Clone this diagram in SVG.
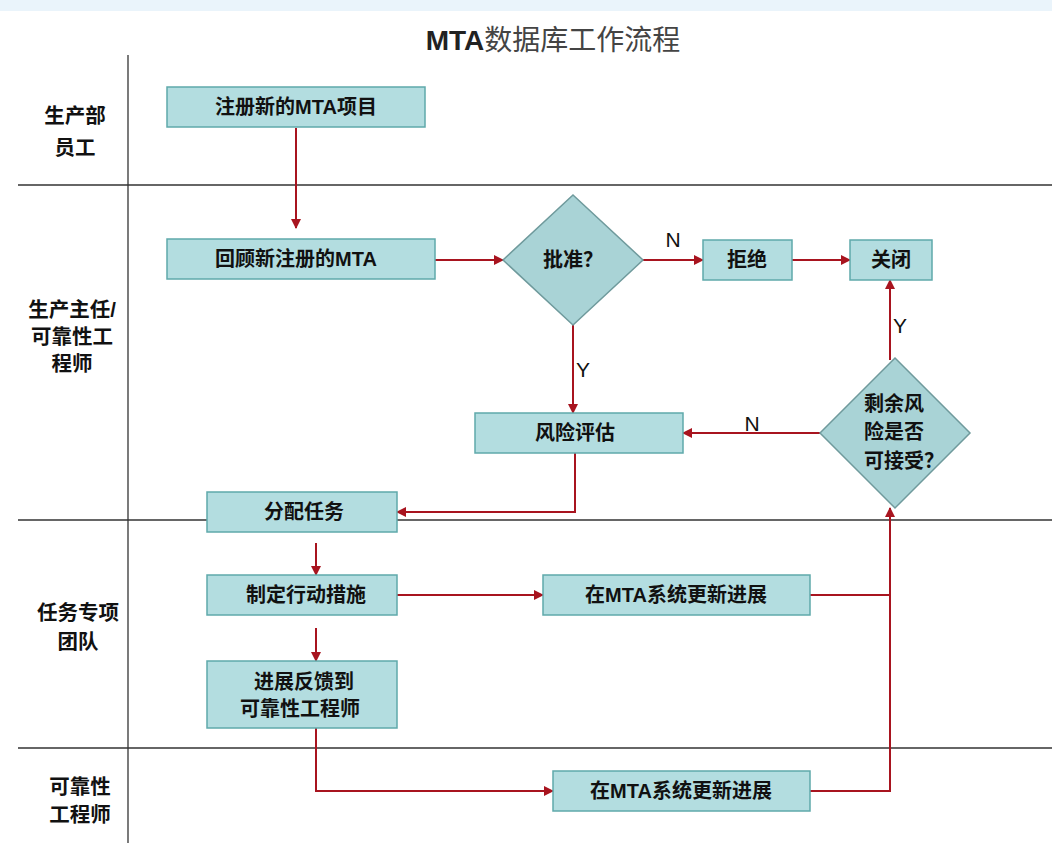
<svg xmlns="http://www.w3.org/2000/svg" width="1052" height="843" viewBox="0 0 1052 843">
<defs>
<style>
text{font-family:"Liberation Sans","Noto Sans CJK SC",sans-serif;fill:#111}
.lane{font-size:20.5px;font-weight:bold;text-anchor:middle}
.bt{font-size:20px;font-weight:bold;text-anchor:middle}
.yn{font-size:21px;text-anchor:middle}
.box{fill:#b3dde0;stroke:#5fa9ab;stroke-width:1.5}
.dia{fill:#a9d3d6;stroke:#6f9a9c;stroke-width:1.5}
.grid{stroke:#333;stroke-width:1.3;fill:none}
.c{stroke:#a8141f;stroke-width:2;fill:none}
</style>
<marker id="ah" viewBox="0 0 10 10" refX="9" refY="5" markerWidth="5" markerHeight="5" orient="auto">
<path d="M0,0 L10,5 L0,10 z" fill="#a8141f"/>
</marker>
</defs>
<rect x="0" y="0" width="1052" height="843" fill="#fff"/>
<rect x="0" y="0" width="1052" height="11" fill="#eaf4fb"/>
<text x="553" y="50" style="font-size:28px;text-anchor:middle;fill:#222"><tspan font-weight="bold">MTA</tspan><tspan fill="#444">数据库工作流程</tspan></text>
<g id="lanes">
<line class="grid" x1="128" y1="55" x2="128" y2="843"/>
<line class="grid" x1="18" y1="185" x2="1052" y2="185"/>
<line class="grid" x1="18" y1="520" x2="1052" y2="520"/>
<line class="grid" x1="18" y1="748" x2="1052" y2="748"/>
<text class="lane" x="75" y="123">生产部</text>
<text class="lane" x="75" y="155">员工</text>
<text class="lane" x="72" y="317">生产主任/</text>
<text class="lane" x="72" y="344">可靠性工</text>
<text class="lane" x="72" y="371">程师</text>
<text class="lane" x="78" y="620">任务专项</text>
<text class="lane" x="78" y="649">团队</text>
<text class="lane" x="80" y="794">可靠性</text>
<text class="lane" x="80" y="822">工程师</text>
</g>
<g id="connectors">
<line class="c" x1="296" y1="128" x2="296" y2="228" marker-end="url(#ah)"/>
<line class="c" x1="435" y1="260" x2="503" y2="260" marker-end="url(#ah)"/>
<line class="c" x1="643" y1="260" x2="703" y2="260" marker-end="url(#ah)"/>
<line class="c" x1="792" y1="260" x2="850" y2="260" marker-end="url(#ah)"/>
<line class="c" x1="573" y1="325" x2="573" y2="413" marker-end="url(#ah)"/>
<line class="c" x1="820" y1="433" x2="683" y2="433" marker-end="url(#ah)"/>
<line class="c" x1="890" y1="360" x2="890" y2="280" marker-end="url(#ah)"/>
<polyline class="c" points="575,453 575,512 397,512" marker-end="url(#ah)"/>
<line class="c" x1="316" y1="543" x2="316" y2="575" marker-end="url(#ah)"/>
<line class="c" x1="316" y1="628" x2="316" y2="661" marker-end="url(#ah)"/>
<line class="c" x1="397" y1="595" x2="543" y2="595" marker-end="url(#ah)"/>
<polyline class="c" points="316,728 316,791 553,791" marker-end="url(#ah)"/>
<line class="c" x1="810" y1="595" x2="890" y2="595"/>
<polyline class="c" points="810,791 890,791 890,508" marker-end="url(#ah)"/>
<text class="yn" x="673" y="247">N</text>
<text class="yn" x="583" y="377">Y</text>
<text class="yn" x="752" y="431">N</text>
<text class="yn" x="900" y="333">Y</text>
</g>
<g id="n1"><rect class="box" x="167" y="87" width="258" height="40"/><text class="bt" x="296" y="114">注册新的MTA项目</text></g>
<g id="n2"><rect class="box" x="167" y="239" width="268" height="40"/><text class="bt" x="296" y="266">回顾新注册的MTA</text></g>
<g id="n3"><polygon class="dia" points="573,195 643,260 573,325 503,260"/><text class="bt" x="573" y="267">批准？</text></g>
<g id="n4"><rect class="box" x="703" y="240" width="89" height="40"/><text class="bt" x="747" y="267">拒绝</text></g>
<g id="n5"><rect class="box" x="850" y="240" width="82" height="40"/><text class="bt" x="891" y="267">关闭</text></g>
<g id="n6"><rect class="box" x="475" y="413" width="208" height="40"/><text class="bt" x="575" y="440">风险评估</text></g>
<g id="n7"><polygon class="dia" points="895,358 970,433 895,508 820,433"/>
<text class="bt" style="text-anchor:start" x="864" y="411">剩余风</text>
<text class="bt" style="text-anchor:start" x="864" y="439">险是否</text>
<text class="bt" style="text-anchor:start" x="864" y="468">可接受？</text></g>
<g id="n8"><rect class="box" x="207" y="492" width="190" height="40"/><text class="bt" x="304" y="519">分配任务</text></g>
<g id="n9"><rect class="box" x="207" y="575" width="190" height="40"/><text class="bt" x="306" y="602">制定行动措施</text></g>
<g id="n10"><rect class="box" x="207" y="661" width="190" height="67"/><text class="bt" x="304" y="689">进展反馈到</text><text class="bt" x="300" y="716">可靠性工程师</text></g>
<g id="n11"><rect class="box" x="543" y="575" width="267" height="40"/><text class="bt" x="676" y="602">在MTA系统更新进展</text></g>
<g id="n12"><rect class="box" x="553" y="771" width="257" height="40"/><text class="bt" x="681" y="798">在MTA系统更新进展</text></g>
</svg>
